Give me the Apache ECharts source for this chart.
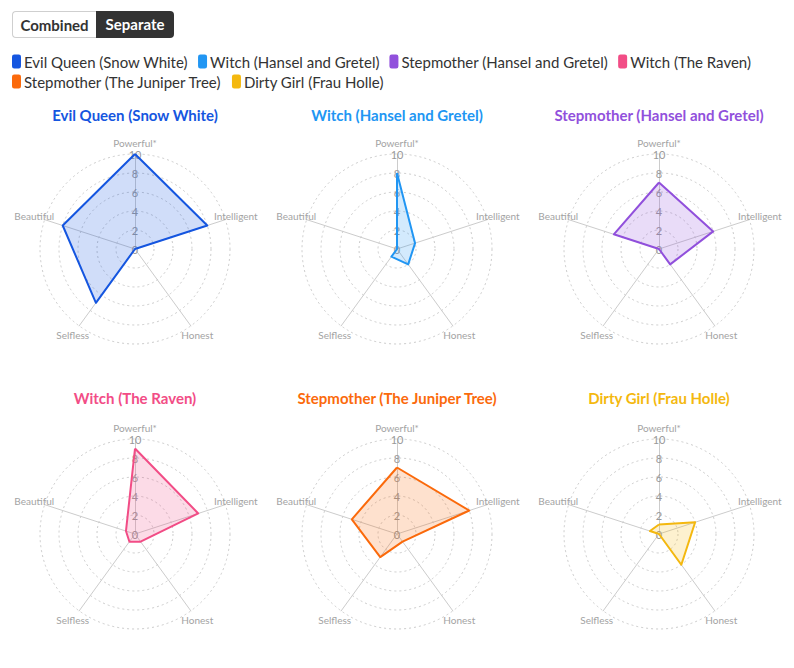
<!DOCTYPE html>
<html>
<head>
<meta charset="utf-8">
<script src="https://cdn.jsdelivr.net/npm/echarts@6/dist/echarts.min.js"></script>
<style>
  html, body { margin: 0; padding: 0; background: #fff; }
  #wrap { position: relative; width: 794px; height: 668px; }
  #chart { position: absolute; left: 0; top: 0; width: 794px; height: 668px; }
  #toggle { position: absolute; left: 12px; top: 11px; display: flex; z-index: 2;
    font-family: Lato, "Noto Sans", sans-serif; font-weight: bold; font-size: 15px; }
  #toggle span { display: inline-block; height: 27px; line-height: 27px; box-sizing: border-box; text-align: center; }
  #toggle .off { width: 84px; border: 1px solid #cfcfcf; border-right: none; border-radius: 4px 0 0 4px; color: #333; background: #fff; }
  #toggle .on { width: 78px; background: #333; color: #fff; border-radius: 0 4px 4px 0; }
</style>
</head>
<body>
<div id="wrap">
  <div id="toggle"><span class="off">Combined</span><span class="on">Separate</span></div>
  <div id="chart"></div>
</div>
<script>
// Axes in clockwise order starting from the top
const axisNames = ['Powerful*', 'Intelligent', 'Honest', 'Selfless', 'Beautiful'];
const tickLabels = ['0', '2', '4', '6', '8', '10'];
const characters = [
  'Evil Queen (Snow White)',
  'Witch (Hansel and Gretel)',
  'Stepmother (Hansel and Gretel)',
  'Witch (The Raven)',
  'Stepmother (The Juniper Tree)',
  'Dirty Girl (Frau Holle)'
];
// values in axisNames order: Powerful*, Intelligent, Honest, Selfless, Beautiful
const evilQueen = [10, 8, 0, 7, 8];
const witchHansel = [8, 2, 2, 1, 0];
const stepmotherHansel = [7, 6, 2, 0, 5];
const witchRaven = [9, 7, 1, 1, 1];
const stepmotherJuniper = [7, 8, 1, 3, 5];
const dirtyGirl = [1, 4, 4, 0, 1];
const seriesValues = [evilQueen, witchHansel, stepmotherHansel, witchRaven, stepmotherJuniper, dirtyGirl];
const colors = ['#1556e0', '#2196f3', '#9150dc', '#f24d86', '#fb6a0c', '#f4b80f'];

const centers = [[135, 249], [397, 249], [659, 249], [135, 534], [397, 534], [659, 534]];
const titleY = [115, 115, 115, 398, 398, 398];
const RADIUS = 95;
const FONT = 'Lato, "Noto Sans", sans-serif';

// ECharts places indicators counter-clockwise: reorder clockwise list
const order = [0, 4, 3, 2, 1];
const axisMax = Number(tickLabels[tickLabels.length - 1]);

const radars = centers.map((c) => ({
  center: c,
  radius: RADIUS,
  startAngle: 90,
  shape: 'circle',
  splitNumber: tickLabels.length - 1,
  indicator: order.map((i) => {
    const ind = { name: axisNames[i], min: 0, max: axisMax };
    if (i === 0) {
      ind.axisLabel = { show: true };
    }
    return ind;
  }),
  axisName: { color: '#a3a3a3', fontSize: 10, fontFamily: FONT, align: 'center', verticalAlign: 'middle' },
  nameGap: 11,
  axisLine: { lineStyle: { color: '#cccccc', width: 1 } },
  splitLine: { lineStyle: { color: '#cccccc', type: [2, 3], width: 1 } },
  splitArea: { show: false },
  axisTick: { show: false },
  axisLabel: {
    show: false, color: '#999999', fontSize: 11, margin: 0,
    align: 'center', verticalAlign: 'middle', fontFamily: FONT
  }
}));

const series = characters.map((name, k) => ({
  type: 'radar',
  radarIndex: k,
  symbol: 'none',
  data: [{
    name: name,
    value: order.map((i) => seriesValues[k][i]),
    itemStyle: { color: colors[k] },
    lineStyle: { color: colors[k], width: 2 },
    areaStyle: { color: colors[k], opacity: 0.2 }
  }]
}));

const graphics = characters.map((name, k) => ({
  type: 'text',
  x: centers[k][0],
  y: titleY[k],
  style: {
    text: name,
    fill: colors[k],
    font: 'bold 15px ' + FONT,
    textAlign: 'center',
    textVerticalAlign: 'middle'
  }
}));

const legendBase = {
  left: 7,
  itemWidth: 9,
  itemHeight: 14,
  itemGap: 10,
  icon: 'roundRect',
  padding: [0, 5, 0, 5],
  textStyle: { color: '#333', fontSize: 15, fontFamily: FONT, padding: [0, 0, 0, -2] }
};

const chart = echarts.init(document.getElementById('chart'), null, { renderer: 'svg' });
chart.setOption({
  animation: false,
  color: colors,
  legend: [
    Object.assign({}, legendBase, { top: 54, data: characters.slice(0, 4) }),
    Object.assign({}, legendBase, { top: 74, data: characters.slice(4) })
  ],
  radar: radars,
  series: series,
  graphic: graphics
});
</script>
</body>
</html>
